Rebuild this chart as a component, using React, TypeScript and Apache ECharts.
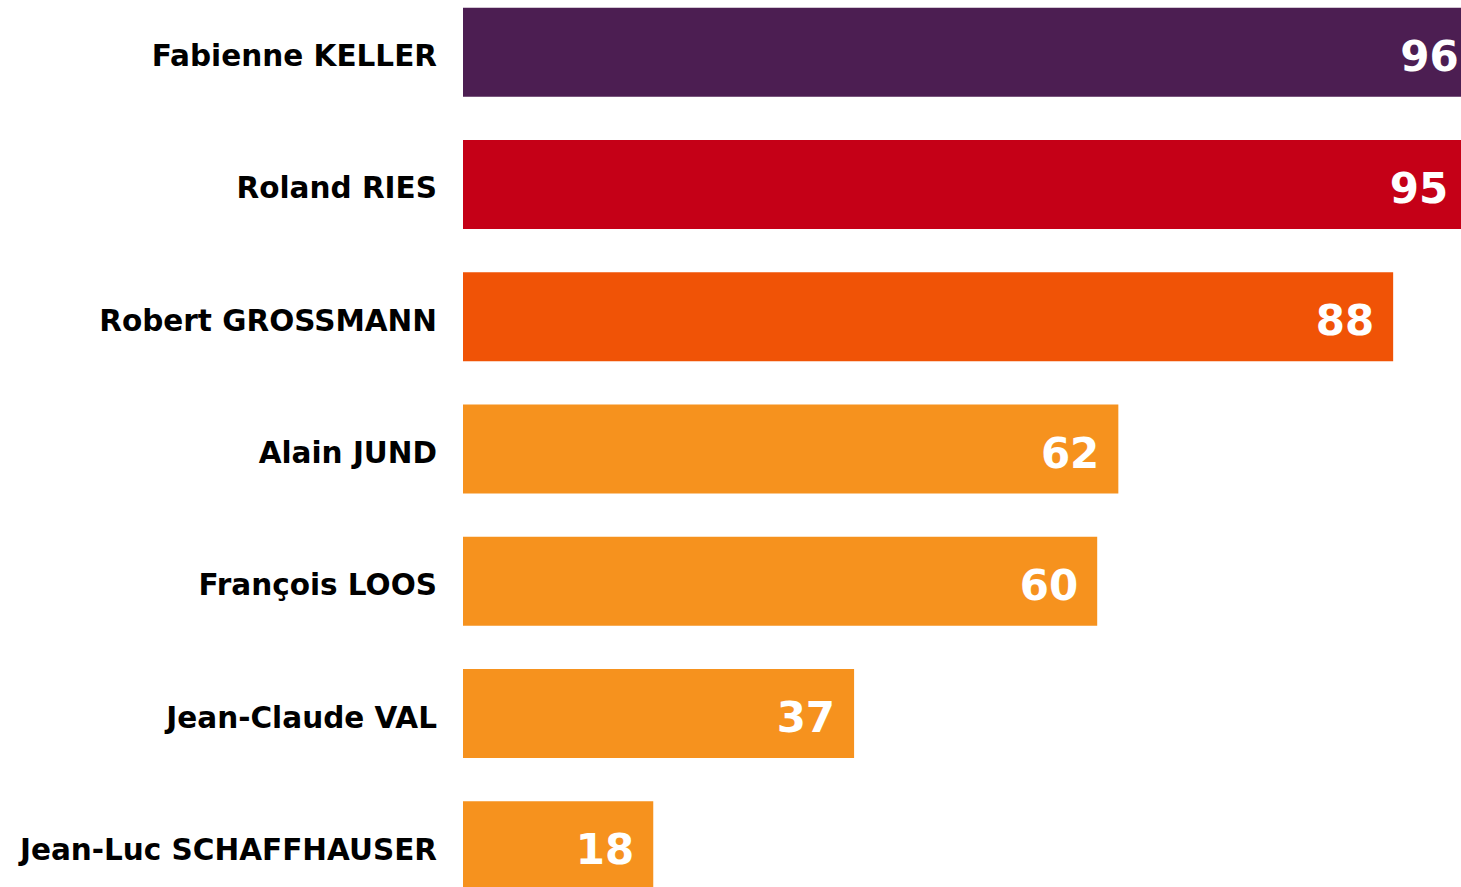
import React, { useEffect, useRef } from "react";
import * as echarts from "echarts";

const candidates = [
  "Fabienne KELLER",
  "Roland RIES",
  "Robert GROSSMANN",
  "Alain JUND",
  "François LOOS",
  "Jean-Claude VAL",
  "Jean-Luc SCHAFFHAUSER",
];
const scores = [96, 95, 88, 62, 60, 37, 18];
const barColors = [
  "#4C1E52",
  "#C50017",
  "#F05306",
  "#F6921E",
  "#F6921E",
  "#F6921E",
  "#F6921E",
];

export default function App() {
  const ref = useRef<HTMLDivElement>(null);
  useEffect(() => {
    if (!ref.current) return;
    const chart = echarts.init(ref.current, null, { renderer: "svg" });
    chart.setOption({
      animation: false,
      backgroundColor: "#ffffff",
      grid: { left: 463, width: 1057, top: 0, height: 926, containLabel: false },
      xAxis: { type: "value", min: 0, max: 100, show: false },
      yAxis: {
        type: "category",
        inverse: true,
        data: candidates,
        axisLine: { show: false },
        axisTick: { show: false },
        splitLine: { show: false },
        axisLabel: {
          margin: 26,
          formatter: (v: string) => `{n|${v}}`,
          rich: {
            n: {
              color: "#000000",
              fontFamily: "DejaVu Sans",
              fontWeight: "bold",
              fontSize: 29.5,
              padding: [8, 0, 0, 0],
            },
          },
        },
      },
      series: [
        {
          type: "bar",
          barWidth: 89,
          clip: false,
          data: scores.map((v, i) => ({ value: v, itemStyle: { color: barColors[i] } })),
          label: {
            show: true,
            position: "insideRight",
            distance: 19,
            offset: [0, 4],
            color: "#ffffff",
            fontFamily: "DejaVu Sans",
            fontWeight: "bold",
            fontSize: 42,
          },
        },
      ],
    });
    return () => chart.dispose();
  }, []);
  return (
    <div
      ref={ref}
      style={{ position: "fixed", left: 0, top: -14, width: 1520, height: 940 }}
    />
  );
}
